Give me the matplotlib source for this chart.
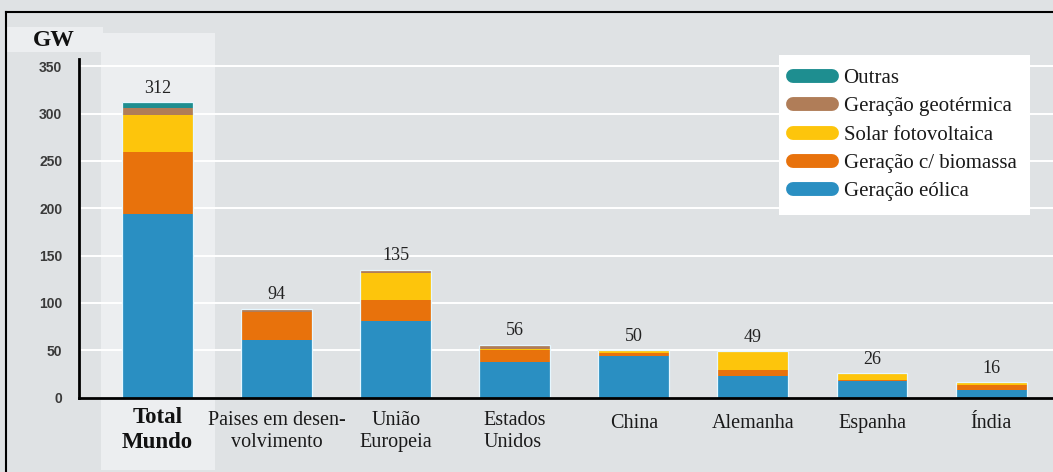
import matplotlib
matplotlib.use("Agg")
import matplotlib.pyplot as plt
import numpy as np
from matplotlib.patches import Rectangle
from matplotlib.lines import Line2D
from matplotlib.transforms import blended_transform_factory

# ---- data ----
categories = ["Total\nMundo", "Paises em desen-\nvolvimento", "União\nEuropeia",
              "Estados\nUnidos", "China", "Alemanha", "Espanha", "Índia"]
eolica     = [194, 61, 81, 38, 44, 23, 17, 8]
biomassa   = [65, 29, 22, 12, 3, 6, 1, 5]
solar      = [40, 0, 29, 1, 3, 20, 8, 3]
geotermica = [7, 4, 3, 5, 0, 0, 0, 0]
outras     = [6, 0, 0, 0, 0, 0, 0, 0]
totals     = [312, 94, 135, 56, 50, 49, 26, 16]
series_names = ["Geração eólica", "Geração c/ biomassa", "Solar fotovoltaica",
                "Geração geotérmica", "Outras"]
yticks = [0, 50, 100, 150, 200, 250, 300, 350]

colors = ["#2a8fc2", "#e8720c", "#fdc50c", "#b07d58", "#1e8e90"]
bg = "#dfe2e4"
panel = "#eceef0"

W, H = 1053, 472
fig = plt.figure(figsize=(W / 100, H / 100), dpi=100, facecolor=bg)

def fx(px):
    return px / W

def fy(py):
    return 1 - py / H

# highlight panel behind Total Mundo
fig.patches.append(Rectangle((fx(101), fy(470)), fx(215) - fx(101), fy(33) - fy(470),
                             transform=fig.transFigure, facecolor=panel, edgecolor="none", zorder=-10))
# GW box
fig.patches.append(Rectangle((fx(7), fy(52)), fx(103) - fx(7), fy(27) - fy(52),
                             transform=fig.transFigure, facecolor="#eceef0", edgecolor="none", zorder=-10))
# frame lines (top & left)
fig.lines.append(Line2D([fx(6), 1], [fy(12), fy(12)], transform=fig.transFigure, color="black", lw=1.5, zorder=-5))
fig.lines.append(Line2D([fx(6), fx(6)], [fy(12), 0], transform=fig.transFigure, color="black", lw=1.5, zorder=-5))

ax_left, ax_right = 79, 1053
ax_bottom, ax_top = 397.5, 58.8
ax = fig.add_axes([fx(ax_left), fy(ax_bottom), fx(ax_right) - fx(ax_left), fy(ax_top) - fy(ax_bottom)])
ax.set_facecolor("none")
ax.set_zorder(1)

x = np.arange(len(categories))
width = 0.596
stack = [eolica, biomassa, solar, geotermica, outras]
bottom = np.zeros(len(categories))
for vals, col, name in zip(stack, colors, series_names):
    v = np.array(vals, dtype=float)
    ax.bar(x, v, width, bottom=bottom, color=col, edgecolor="none", zorder=3, label=name)
    bottom += v
# light outline around each stacked bar
ax.bar(x, bottom, width, facecolor="none", edgecolor="#e6f7ff", lw=0.9, zorder=4)

ax.set_xlim(-0.66, 7.52)
ax.set_ylim(0, 358)
ax.set_yticks(yticks)
ax.set_yticklabels([str(t) for t in yticks], fontfamily="Liberation Sans",
                   fontweight="bold", fontsize=10, color="#3a3a3a")
ax.tick_params(axis="y", length=0, pad=12)
ax.set_xticks([])
ax.yaxis.grid(True, color="white", lw=1.4, zorder=1)
ax.set_axisbelow(True)
for s in ["top", "right"]:
    ax.spines[s].set_visible(False)
ax.spines["left"].set_linewidth(2)
ax.spines["bottom"].set_linewidth(2)
ax.spines["left"].set_zorder(5)
ax.spines["bottom"].set_zorder(5)

# value labels
for xi, top, tot in zip(x, bottom, totals):
    ax.annotate(str(tot), (xi, top), xytext=(0, 10), textcoords="offset points",
                ha="center", va="center", fontfamily="Liberation Serif", fontsize=13, color="#222222")

# category labels
trans = blended_transform_factory(ax.transData, ax.transAxes)
for i, lab in enumerate(categories):
    two = "\n" in lab
    if i == 0:
        ax.annotate(lab, (x[i], 0), xycoords=trans, xytext=(0, -23.6), textcoords="offset points",
                    ha="center", va="center", fontfamily="Liberation Serif", fontweight="bold",
                    fontsize=16.5, color="#111111", linespacing=1.25, annotation_clip=False)
    else:
        off = -24.5 if two else -19
        ma = "left" if i == 3 else "center"
        ax.annotate(lab, (x[i], 0), xycoords=trans, xytext=(0, off), textcoords="offset points",
                    ha="center", va="center", fontfamily="Liberation Serif", fontsize=14.5,
                    color="#1a1a1a", multialignment=ma, linespacing=1.25, annotation_clip=False)

# GW label
fig.text(fx(33), fy(41), "GW", fontfamily="Liberation Serif", fontweight="bold",
         fontsize=17, color="#111111", ha="left", va="center")

# legend
handles = [Line2D([0], [0], color=c, lw=10, solid_capstyle="round") for c in colors]
handles = handles[::-1]
names = series_names[::-1]
leg = fig.legend(handles, names, loc="upper right", bbox_to_anchor=(fx(1030), fy(55)),
                 bbox_transform=fig.transFigure, frameon=True, fancybox=False,
                 prop={"family": "Liberation Serif", "size": 15},
                 handlelength=1.9, handletextpad=0.55, labelspacing=0.42,
                 borderpad=0.65, borderaxespad=0)
leg.get_frame().set_facecolor("white")
leg.get_frame().set_edgecolor("none")
leg.get_frame().set_alpha(1)
for t in leg.get_texts():
    t.set_color("#1a1a1a")

fig.savefig("out.png", dpi=100, facecolor=bg)
